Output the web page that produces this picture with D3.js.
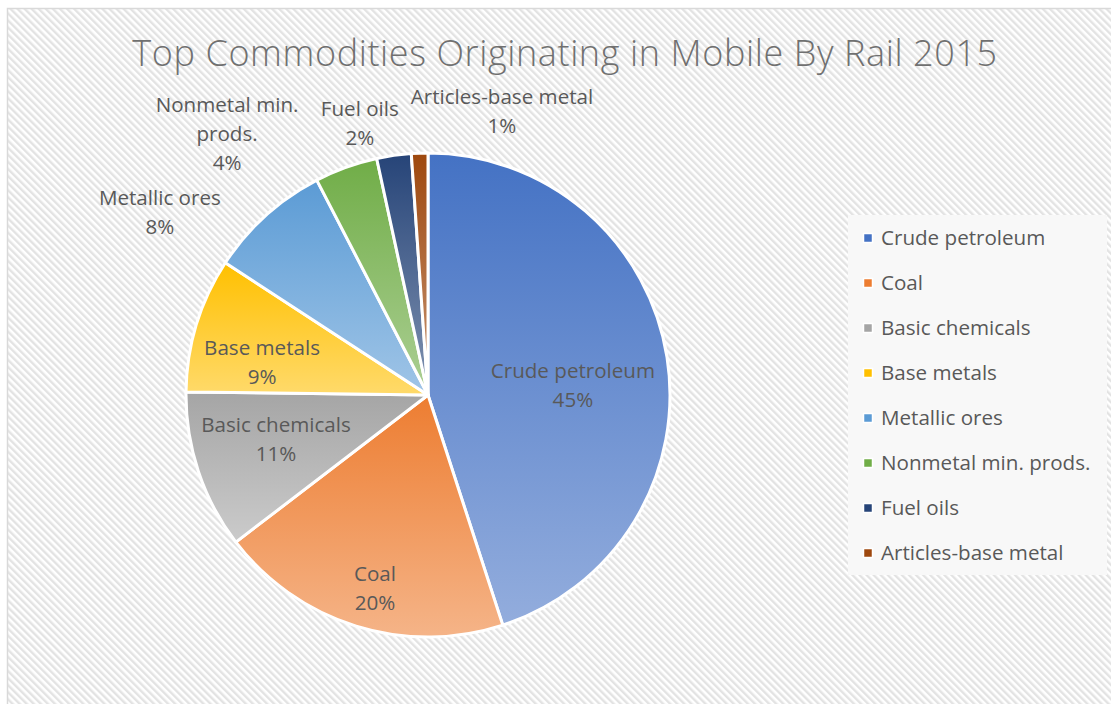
<!DOCTYPE html>
<html>
<head>
<meta charset="utf-8">
<script src="https://cdn.jsdelivr.net/npm/d3@7"></script>
<style>
  html, body { margin: 0; padding: 0; background: #fff; }
  svg { display: block; }
</style>
</head>
<body>
<svg id="chart" width="1111" height="704"></svg>
<script>
// Rail originations from Mobile, 2015 — share of tonnage by commodity
const categories = [
  "Crude petroleum", "Coal", "Basic chemicals", "Base metals",
  "Metallic ores", "Nonmetal min. prods.", "Fuel oils", "Articles-base metal"
];
const shares = [45.0, 19.6, 10.6, 9.0, 8.2, 4.2, 2.3, 1.1];
const colors = [
  "#4472C4", "#ED7D31", "#A5A5A5", "#FFC000",
  "#5B9BD5", "#70AD47", "#264478", "#9E480E"
];
const chartTitle = "Top Commodities Originating in Mobile By Rail 2015";

// label text lines (data labels wrap where the text is too wide)
const labelLines = [
  ["Crude petroleum"], ["Coal"], ["Basic chemicals"], ["Base metals"],
  ["Metallic ores"], ["Nonmetal min.", "prods."], ["Fuel oils"], ["Articles-base metal"]
];

// label placement: angular shift from slice middle (deg) and distance (in radii)
const labelPlace = [
  { da: 5.4, k: 0.600 }, { da: -2.0, k: 0.831 }, { da: 1.9, k: 0.655 }, { da: -5.8, k: 0.699 },
  { da: -13.6, k: 1.341 }, { da: -17.8, k: 1.361 }, { da: -6.0, k: 1.157 }, { da: 16.6, k: 1.211 }
];

const W = 1111, H = 704;
const cx = 428, cy = 395, R = 242;
const font = "'Open Sans', 'Noto Sans', sans-serif";
const textColor = "#595959";

const svg = d3.select("#chart");
const defs = svg.append("defs");

// diagonal hatch background
const hatch = defs.append("pattern")
  .attr("id", "hatch")
  .attr("patternUnits", "userSpaceOnUse")
  .attr("width", 5).attr("height", 5)
  .attr("patternTransform", "rotate(-45)");
hatch.append("rect").attr("width", 5).attr("height", 5).attr("fill", "#ffffff");
hatch.append("rect").attr("width", 2.4).attr("height", 5).attr("fill", "#e3e3e3");

svg.append("rect").attr("width", W).attr("height", H).attr("fill", "#fff");
svg.append("rect")
  .attr("x", 7.5).attr("y", 8.5)
  .attr("width", W + 10).attr("height", H + 10)
  .attr("fill", "url(#hatch)")
  .attr("stroke", "#d9d9d9").attr("stroke-width", 1.5);

// title
svg.append("text")
  .attr("x", 565).attr("y", 66)
  .attr("text-anchor", "middle")
  .attr("font-family", font)
  .attr("font-weight", 300)
  .attr("font-size", 36)
  .attr("letter-spacing", 0.6)
  .attr("fill", "#707070")
  .text(chartTitle);

// slice gradients: base colour at top fading to a lighter tint at the bottom
colors.forEach((c, i) => {
  const g = defs.append("linearGradient")
    .attr("id", "grad" + i)
    .attr("x1", 0).attr("y1", 0).attr("x2", 0).attr("y2", 1);
  g.append("stop").attr("offset", "0%").attr("stop-color", c);
  g.append("stop").attr("offset", "100%").attr("stop-color", d3.interpolateRgb(c, "#ffffff")(0.42));
});

const pie = d3.pie().sort(null).value(d => d.value);
const data = categories.map((name, i) => ({ name, value: shares[i], i }));
const arcs = pie(data);
const total = d3.sum(shares);

const arc = d3.arc().innerRadius(0).outerRadius(R);

const gPie = svg.append("g").attr("transform", `translate(${cx},${cy})`);
gPie.selectAll("path.slice")
  .data(arcs)
  .join("path")
  .attr("class", "slice")
  .attr("d", arc)
  .attr("fill", d => `url(#grad${d.data.i})`)
  .attr("stroke", "#ffffff")
  .attr("stroke-width", 3)
  .attr("stroke-linejoin", "round");

// data labels: category name and percentage
const lineH = 29;
gPie.selectAll("text.lbl")
  .data(arcs)
  .join("text")
  .attr("class", "lbl")
  .attr("text-anchor", "middle")
  .attr("font-family", font)
  .attr("font-size", 20.6)
  .attr("fill", textColor)
  .each(function (d) {
    const p = labelPlace[d.data.i];
    const a = (d.startAngle + d.endAngle) / 2 + p.da * Math.PI / 180;
    const x = Math.sin(a) * R * p.k;
    const y = -Math.cos(a) * R * p.k;
    const lines = labelLines[d.data.i].concat([Math.round(d.data.value / total * 100) + "%"]);
    const top = y + 7 - (lines.length - 1) * lineH / 2;
    const t = d3.select(this);
    lines.forEach((s, j) => {
      t.append("tspan").attr("x", x).attr("y", top + j * lineH).text(s);
    });
  });

// legend
const lg = svg.append("g");
lg.append("rect")
  .attr("x", 848).attr("y", 215).attr("width", 259).attr("height", 360)
  .attr("fill", "#f8f8f8");
const legendY = d3.scalePoint().domain(categories).range([245, 245 + 45 * 7]);
const items = lg.selectAll("g.item")
  .data(categories)
  .join("g")
  .attr("class", "item")
  .attr("transform", d => `translate(0,${legendY(d)})`);
items.append("rect")
  .attr("x", 863.5).attr("y", -11.5).attr("width", 9).attr("height", 9)
  .attr("fill", (d, i) => colors[i])
  .attr("stroke", "#ffffff").attr("stroke-width", 1.5);
items.append("text")
  .attr("x", 881).attr("y", 0)
  .attr("font-family", font)
  .attr("font-size", 20.6)
  .attr("fill", textColor)
  .text(d => d);
</script>
</body>
</html>
